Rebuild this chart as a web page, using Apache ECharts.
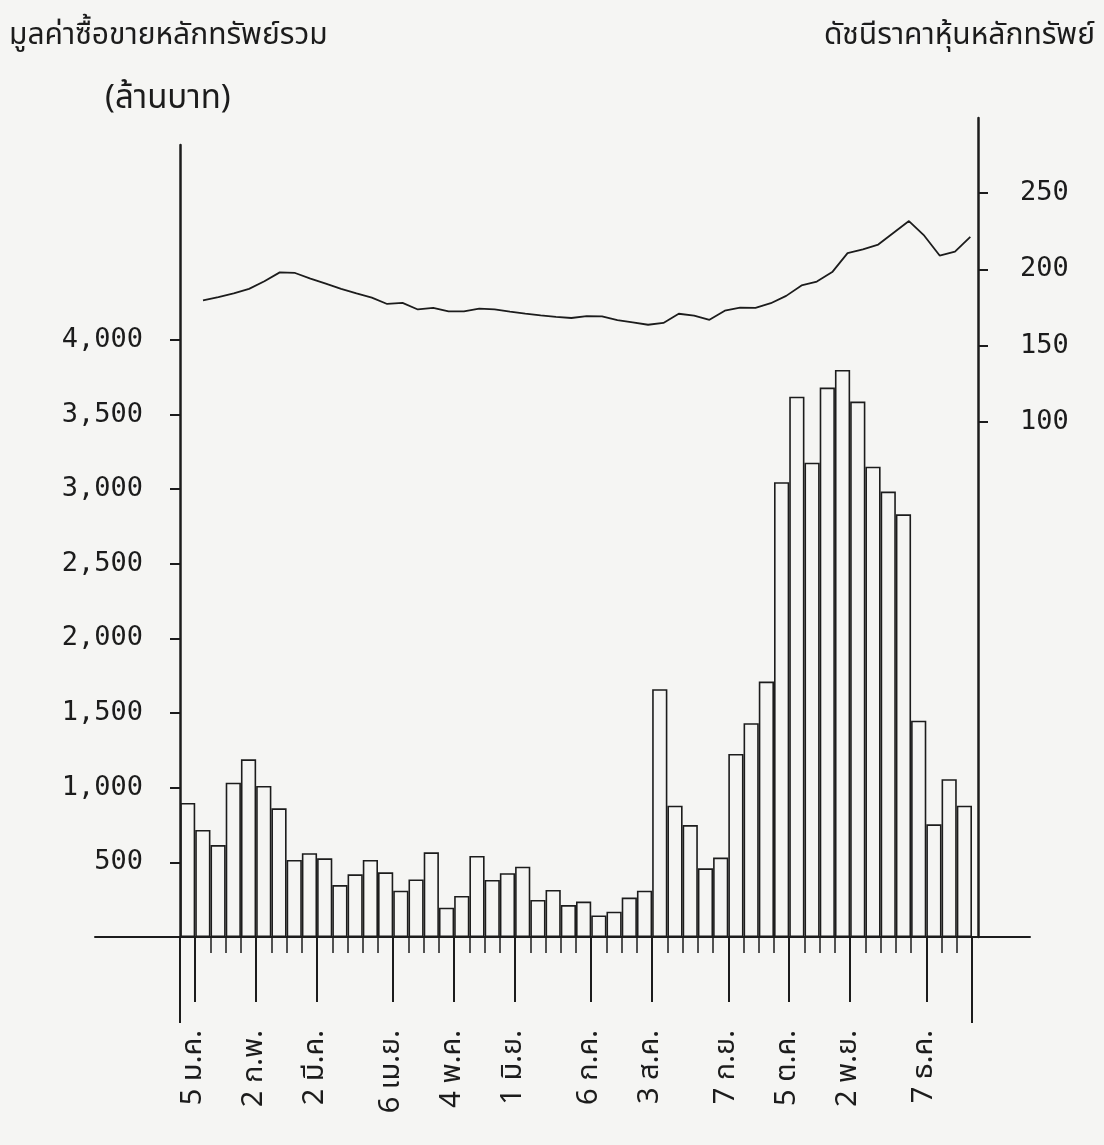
<!DOCTYPE html>
<html><head><meta charset="utf-8">
<script src="https://cdn.jsdelivr.net/npm/echarts@6/dist/echarts.min.js"></script>
<style>html,body{margin:0;padding:0;background:#f5f5f3}#c{width:1104px;height:1145px}</style>
</head><body><div id="c"></div>
<script>
// weekly categories (Thursdays of 1978, 52 weeks)
const weeks = ['1','2','3','4','5','6','7','8','9','10','11','12','13','14','15','16','17','18','19','20','21','22','23','24','25','26','27','28','29','30','31','32','33','34','35','36','37','38','39','40','41','42','43','44','45','46','47','48','49','50','51','52'];
// total trading value (million baht)
const tradingValue = [898,717,616,1034,1190,1012,862,516,561,527,348,420,516,433,310,386,567,196,275,543,382,427,471,248,315,214,237,144,170,264,310,1660,880,750,460,532,1226,1432,1711,3047,3620,3178,3681,3799,3587,3151,2984,2832,1449,755,1057,880];
// stock price index
const setIndex = [null,179.7,181.8,184.3,187.2,192.2,198,197.6,193.9,190.6,187.2,184.2,181.5,177.3,178,173.7,174.7,172.4,172.5,174.2,173.7,172.3,171,169.8,168.8,168.1,169.3,169.2,166.7,165.2,163.7,164.9,170.9,169.7,166.9,172.9,174.9,174.8,177.8,182.6,189.4,192,198.2,210.6,213.1,216.2,224,231.6,222,209,211.6,221.2];
// labelled weeks (index of week) and their labels
const labelWeekIndex = [0,4,8,13,17,21,26,30,35,39,43,48];
const dateLabels = ['5 ม.ค.','2 ก.พ.','2 มี.ค.','6 เม.ย.','4 พ.ค.','1 มิ.ย.','6 ก.ค.','3 ส.ค.','7 ก.ย.','5 ต.ค.','2 พ.ย.','7 ธ.ค.'];
const leftTicks = [500,1000,1500,2000,2500,3000,3500,4000];
const rightTicks = [100,150,200,250];

const ink = '#1c1c1c';
const thai = "'Noto Sans Thai','Noto Sans','DejaVu Sans',sans-serif";
const mono = "'DejaVu Sans Mono','Liberation Mono',monospace";

const tickPos = labelWeekIndex.map(i => i + 1);
const labelMap = {};
tickPos.forEach((p, k) => { labelMap[p] = dateLabels[k]; });

const chart = echarts.init(document.getElementById('c'));
chart.setOption({
  backgroundColor: '#f5f5f3',
  animation: false,
  title: [
    {text: 'มูลค่าซื้อขายหลักทรัพย์รวม', left: 4, top: 18, textStyle: {fontSize: 30, fontWeight: 'normal', color: ink, fontFamily: thai}},
    {text: '(ล้านบาท)', left: 100, top: 80, textStyle: {fontSize: 33, fontWeight: 'normal', color: ink, fontFamily: thai}},
    {text: 'ดัชนีราคาหุ้นหลักทรัพย์', right: 4, top: 18, textStyle: {fontSize: 30, fontWeight: 'normal', color: ink, fontFamily: thai}}
  ],
  grid: [
    {left: 180, right: 132, top: 145, bottom: 208},
    {left: 180, right: 126, top: 118, bottom: 208},
    {left: 95, right: 74, top: 145, bottom: 208}
  ],
  xAxis: [
    {type: 'category', gridIndex: 0, data: weeks, boundaryGap: true, position: 'bottom',
     axisLine: {show: true, lineStyle: {color: ink, width: 2}},
     axisTick: {show: true, interval: 0, length: 16, lineStyle: {color: ink, width: 1.5}},
     axisLabel: {show: false}, splitLine: {show: false}},
    {type: 'value', gridIndex: 0, min: 0, max: 52, position: 'bottom',
     axisLine: {show: false},
     axisTick: {show: true, customValues: tickPos, length: 65, lineStyle: {color: ink, width: 2}},
     axisLabel: {show: true, customValues: tickPos, rotate: 90, margin: 93,
       formatter: v => labelMap[v] || '', fontSize: 29, color: ink, fontFamily: thai},
     splitLine: {show: false}},
    {type: 'value', gridIndex: 0, min: 0, max: 52, position: 'bottom',
     axisLine: {show: false},
     axisTick: {show: true, customValues: [0, 52], length: 86, lineStyle: {color: ink, width: 2}},
     axisLabel: {show: false}, splitLine: {show: false}},
    {type: 'category', gridIndex: 1, data: weeks, boundaryGap: true, show: false},
    {type: 'value', gridIndex: 2, min: 0, max: 1, position: 'bottom',
     axisLine: {show: true, lineStyle: {color: ink, width: 2}},
     axisTick: {show: false}, axisLabel: {show: false}, splitLine: {show: false}}
  ],
  yAxis: [
    {type: 'value', gridIndex: 0, min: 0, max: 5306, position: 'left',
     axisLine: {show: true, lineStyle: {color: ink, width: 2.5}},
     axisTick: {show: true, customValues: leftTicks, length: 10, lineStyle: {color: ink, width: 2}},
     axisLabel: {customValues: leftTicks, margin: 37, fontSize: 27, color: ink, fontFamily: mono,
       formatter: v => v.toLocaleString('en-US')},
     splitLine: {show: false}},
    {type: 'value', gridIndex: 1, min: -237.3, max: 299.1, position: 'right',
     axisLine: {show: true, lineStyle: {color: ink, width: 2.5}},
     axisTick: {show: true, customValues: rightTicks, length: 10, lineStyle: {color: ink, width: 2}},
     axisLabel: {customValues: rightTicks, margin: 42, fontSize: 27, color: ink, fontFamily: mono},
     splitLine: {show: false}},
    {type: 'value', gridIndex: 2, min: 0, max: 1, show: false}
  ],
  series: [
    {type: 'bar', xAxisIndex: 0, yAxisIndex: 0, data: tradingValue,
     barWidth: '100%', barGap: '0%', barCategoryGap: '0%', silent: true,
     itemStyle: {color: 'rgba(255,255,255,0)', borderColor: ink, borderWidth: 1.6}},
    {type: 'line', xAxisIndex: 3, yAxisIndex: 1, data: setIndex, symbol: 'none', silent: true,
     lineStyle: {color: ink, width: 1.8}}
  ]
});
</script></body></html>
